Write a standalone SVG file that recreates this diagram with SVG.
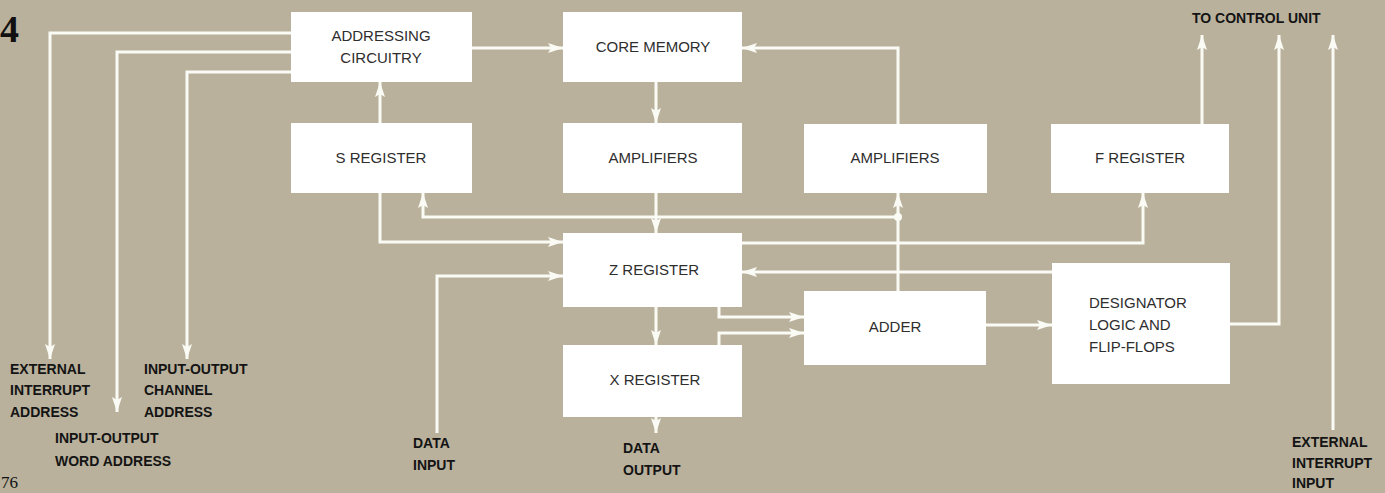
<svg xmlns="http://www.w3.org/2000/svg" width="1385" height="493" viewBox="0 0 1385 493">
<style>
.box{fill:#ffffff;}
.bt{font-family:"Liberation Sans",Arial,sans-serif;font-size:15px;fill:#2e2e2e;}
.lbl{font-family:"Liberation Sans",Arial,sans-serif;font-size:14px;font-weight:bold;fill:#141414;}
.ln{fill:none;stroke:#fbfbf5;stroke-width:3;stroke-linejoin:miter;}
.ar{marker-end:url(#ah);}
</style>
<defs>
<marker id="ah" markerUnits="userSpaceOnUse" markerWidth="16" markerHeight="12" viewBox="0 0 16 12" refX="15" refY="6" orient="auto">
<path d="M0,1 L15,6 L0,11 L3,6 Z" fill="#fbfbf5"/>
</marker>
</defs>
<rect width="1385" height="493" fill="#b9b19c"/>
<text x="0" y="42" font-family="Liberation Serif,serif" font-weight="bold" font-size="38" fill="#111">4</text>
<text x="1" y="488" font-family="Liberation Serif,serif" font-size="17" fill="#111">76</text>
<g id="connectors">
<path class="ln ar" d="M291,33 H50 V359"/>
<path class="ln ar" d="M291,52 H117 V412"/>
<path class="ln ar" d="M291,72 H187 V359"/>
<path class="ln ar" d="M472,48 H563"/>
<path class="ln ar" d="M380,123 V82"/>
<path class="ln ar" d="M656,82 V123"/>
<path class="ln ar" d="M656,193 V233"/>
<path class="ln ar" d="M898,124 V48 H742"/>
<path class="ln ar" d="M898,291 V193"/>
<path class="ln ar" d="M898,217 H423 V193"/>
<circle cx="898" cy="217" r="4" fill="#fbfbf5"/>
<path class="ln ar" d="M380,193 V242 H563"/>
<path class="ln ar" d="M437,433 V276 H563"/>
<path class="ln ar" d="M742,243 H1143 V193"/>
<path class="ln ar" d="M1052,272 H742"/>
<path class="ln ar" d="M719,307 V317 H804"/>
<path class="ln ar" d="M719,345 V333 H804"/>
<path class="ln ar" d="M986,325 H1052"/>
<path class="ln ar" d="M656,307 V345"/>
<path class="ln ar" d="M656,417 V433"/>
<path class="ln ar" d="M1202,124 V35"/>
<path class="ln ar" d="M1230,324 H1279 V35"/>
<path class="ln ar" d="M1333,430 V35"/>
</g>
<g id="addressing">
<rect class="box" x="291" y="12" width="181" height="70"/>
<text class="bt" x="381" y="41" text-anchor="middle">ADDRESSING</text>
<text class="bt" x="381" y="63" text-anchor="middle">CIRCUITRY</text>
</g>
<g id="core-memory">
<rect class="box" x="563" y="12" width="179" height="70"/>
<text class="bt" x="653" y="52" text-anchor="middle">CORE MEMORY</text>
</g>
<g id="s-register">
<rect class="box" x="291" y="123" width="181" height="70"/>
<text class="bt" x="381" y="163" text-anchor="middle">S REGISTER</text>
</g>
<g id="amplifiers-1">
<rect class="box" x="563" y="123" width="179" height="70"/>
<text class="bt" x="653" y="163" text-anchor="middle">AMPLIFIERS</text>
</g>
<g id="amplifiers-2">
<rect class="box" x="804" y="124" width="183" height="69"/>
<text class="bt" x="895" y="163" text-anchor="middle">AMPLIFIERS</text>
</g>
<g id="f-register">
<rect class="box" x="1051" y="124" width="178" height="69"/>
<text class="bt" x="1140" y="163" text-anchor="middle">F REGISTER</text>
</g>
<g id="z-register">
<rect class="box" x="563" y="233" width="179" height="74"/>
<text class="bt" x="654" y="275" text-anchor="middle">Z REGISTER</text>
</g>
<g id="x-register">
<rect class="box" x="563" y="345" width="179" height="72"/>
<text class="bt" x="655" y="385" text-anchor="middle">X REGISTER</text>
</g>
<g id="adder">
<rect class="box" x="804" y="291" width="182" height="74"/>
<text class="bt" x="895" y="332" text-anchor="middle">ADDER</text>
</g>
<g id="designator">
<rect class="box" x="1052" y="263" width="178" height="121"/>
<text class="bt" x="1089" y="308">DESIGNATOR</text>
<text class="bt" x="1089" y="330">LOGIC AND</text>
<text class="bt" x="1089" y="352">FLIP-FLOPS</text>
</g>
<g id="labels">
<text class="lbl" x="1192" y="23" font-size="15">TO CONTROL UNIT</text>
<text class="lbl" x="10" y="374">EXTERNAL</text>
<text class="lbl" x="10" y="395">INTERRUPT</text>
<text class="lbl" x="10" y="417">ADDRESS</text>
<text class="lbl" x="144" y="374">INPUT-OUTPUT</text>
<text class="lbl" x="144" y="395">CHANNEL</text>
<text class="lbl" x="144" y="417">ADDRESS</text>
<text class="lbl" x="55" y="443">INPUT-OUTPUT</text>
<text class="lbl" x="55" y="466">WORD  ADDRESS</text>
<text class="lbl" x="413" y="448">DATA</text>
<text class="lbl" x="413" y="470">INPUT</text>
<text class="lbl" x="623" y="453">DATA</text>
<text class="lbl" x="623" y="475">OUTPUT</text>
<text class="lbl" x="1292" y="447">EXTERNAL</text>
<text class="lbl" x="1292" y="468">INTERRUPT</text>
<text class="lbl" x="1292" y="488">INPUT</text>
</g>
</svg>
